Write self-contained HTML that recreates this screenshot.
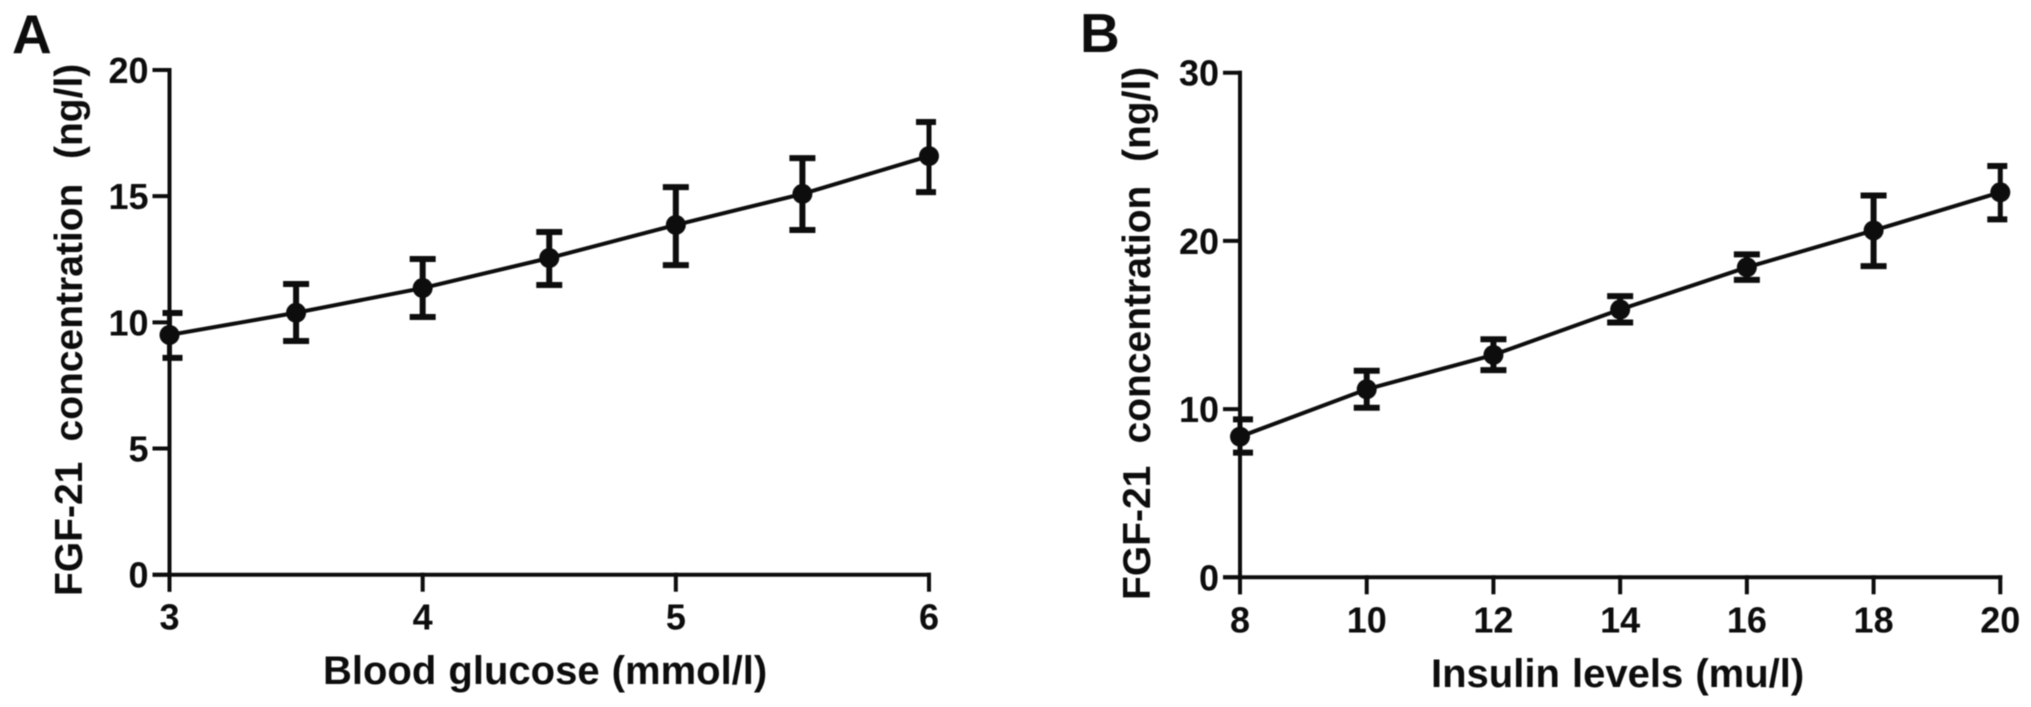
<!DOCTYPE html>
<html lang="en">
<head>
<meta charset="utf-8">
<title>FGF-21 concentration charts</title>
<style>
html,body{margin:0;padding:0;background:#fff;width:2031px;height:707px;overflow:hidden}
svg{display:block}
text{font-family:"Liberation Sans",Arial,sans-serif;font-weight:bold;fill:#111}
.tick{font-size:36px}
.title{font-size:40px}
.title-y{font-size:39px}
.letter{font-size:55px}
</style>
</head>
<body>
<svg id="figure" xmlns="http://www.w3.org/2000/svg" width="2031" height="707" viewBox="0 0 2031 707">
  <defs><filter id="soft" x="-5%" y="-5%" width="110%" height="110%"><feGaussianBlur stdDeviation="0.5"/></filter></defs>
  <g filter="url(#soft)">
    <text class="letter" x="12" y="53">A</text>
    <text class="letter" x="1080" y="52">B</text>
    <text class="title-y" transform="translate(82,596) rotate(-90)"><tspan x="0">FGF-21 </tspan><tspan x="154.5">concentration </tspan><tspan x="437">(ng/l)</tspan></text>
    <text class="title" x="323" y="684" word-spacing="1">Blood glucose (mmol/l)</text>
    <text class="title-y" transform="translate(1150,600) rotate(-90)"><tspan x="0">FGF-21 </tspan><tspan x="156.5">concentration </tspan><tspan x="438">(ng/l)</tspan></text>
    <text class="title" x="1431" y="687" word-spacing="1">Insulin levels (mu/l)</text>
    <g id="panel-a"></g>
    <g id="panel-b"></g>
  </g>
</svg>
<script>
const glucoseLevels = [3, 3.5, 4, 4.5, 5, 5.5, 6];
const glucoseMeans = [9.5, 10.38, 11.36, 12.55, 13.86, 15.09, 16.59];
const glucoseUpper = [10.37, 11.52, 12.51, 13.58, 15.36, 16.51, 17.94];
const glucoseLower = [8.59, 9.26, 10.21, 11.48, 12.27, 13.66, 15.16];
const glucoseXTicks = [3, 4, 5, 6];
const glucoseYTicks = [0, 5, 10, 15, 20];

const insulinLevels = [8, 10, 12, 14, 16, 18, 20];
const insulinMeans = [8.36, 11.18, 13.22, 15.92, 18.43, 20.62, 22.89];
const insulinUpper = [9.39, 12.28, 14.15, 16.72, 19.2, 22.7, 24.45];
const insulinLower = [7.41, 10.08, 12.32, 15.15, 17.68, 18.5, 21.28];
const insulinXTicks = [8, 10, 12, 14, 16, 18, 20];
const insulinYTicks = [0, 10, 20, 30];

const NS = 'http://www.w3.org/2000/svg';
const INK = '#111';

function make(parent, tag, attrs) {
  const el = document.createElementNS(NS, tag);
  for (const k in attrs) el.setAttribute(k, attrs[k]);
  parent.appendChild(el);
  return el;
}

function drawPanel(cfg) {
  const root = document.getElementById(cfg.id);
  const sx = v => cfg.x0 + (v - cfg.xMin) / (cfg.xMax - cfg.xMin) * (cfg.x1 - cfg.x0);
  const sy = v => cfg.y0 - (v - cfg.yMin) / (cfg.yMax - cfg.yMin) * (cfg.y0 - cfg.y1);
  const axisStyle = {stroke: INK, 'stroke-width': 4, 'stroke-linecap': 'square', fill: 'none'};

  const yAxis = make(root, 'line', Object.assign({x1: cfg.x0, x2: cfg.x0, y1: cfg.y1, y2: cfg.y0 + 15}, axisStyle));
  
  
  const xAxis = make(root, 'line', Object.assign({x1: cfg.x0 - 15, x2: cfg.x1, y1: cfg.y0, y2: cfg.y0}, axisStyle));
  
  

  cfg.yTicks.forEach(v => {
    const t = make(root, 'line', Object.assign({x1: cfg.x0 - 15, x2: cfg.x0, y1: sy(v), y2: sy(v)}, axisStyle));
    
    
    const label = make(root, 'text', {class: 'tick', x: cfg.x0 - 21, y: sy(v) + 13, 'text-anchor': 'end'});
    label.textContent = v;
    
    
  });

  cfg.xTicks.forEach(v => {
    const t = make(root, 'line', Object.assign({x1: sx(v), x2: sx(v), y1: cfg.y0, y2: cfg.y0 + 15}, axisStyle));
    
    
    const label = make(root, 'text', {class: 'tick', x: sx(v), y: cfg.y0 + 55, 'text-anchor': 'middle'});
    label.textContent = v;
    
    
  });

  const points = cfg.xs.map((v, i) => sx(v) + ',' + sy(cfg.means[i])).join(' ');
  const line = make(root, 'polyline', {points: points, fill: 'none', stroke: INK, 'stroke-width': 4});
  
  

  cfg.xs.forEach((v, i) => {
    const cx = sx(v);
    const isEnd = i === 0 || i === cfg.xs.length - 1;
    const left = i === 0 ? 7 : 13;
    const right = i === cfg.xs.length - 1 ? 7 : 13;
    const stem = make(root, 'line', {x1: cx, x2: cx, y1: sy(cfg.upper[i]), y2: sy(cfg.lower[i]), stroke: INK, 'stroke-width': isEnd ? 5 : 6});
    
    
    const capTop = make(root, 'line', {x1: cx - left, x2: cx + right, y1: sy(cfg.upper[i]), y2: sy(cfg.upper[i]), stroke: INK, 'stroke-width': 6});
    
    
    const capBottom = make(root, 'line', {x1: cx - left, x2: cx + right, y1: sy(cfg.lower[i]), y2: sy(cfg.lower[i]), stroke: INK, 'stroke-width': 6});
    
    
    const dot = make(root, 'circle', {cx: cx, cy: sy(cfg.means[i]), r: 10, fill: INK});
    
    
  });
}

drawPanel({
  id: 'panel-a', x0: 169.5, x1: 929, y0: 574.7, y1: 70,
  xMin: 3, xMax: 6, yMin: 0, yMax: 20,
  xs: glucoseLevels, means: glucoseMeans, upper: glucoseUpper, lower: glucoseLower,
  xTicks: glucoseXTicks, yTicks: glucoseYTicks
});
drawPanel({
  id: 'panel-b', x0: 1240, x1: 2000.3, y0: 577.3, y1: 72.7,
  xMin: 8, xMax: 20, yMin: 0, yMax: 30,
  xs: insulinLevels, means: insulinMeans, upper: insulinUpper, lower: insulinLower,
  xTicks: insulinXTicks, yTicks: insulinYTicks
});
</script>
</body>
</html>
